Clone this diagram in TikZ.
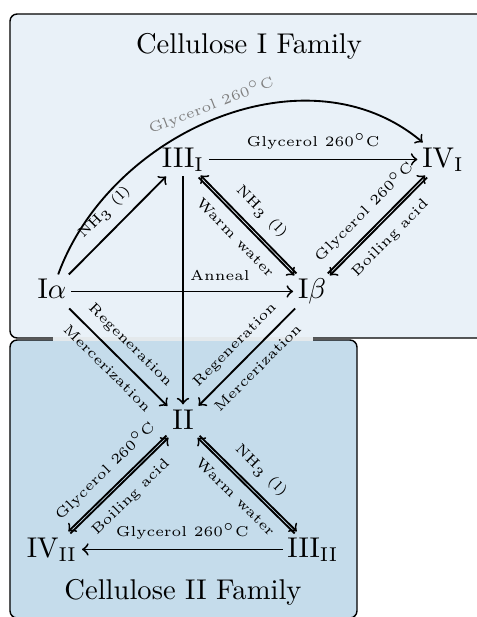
\documentclass[tikz,border=0pt]{standalone}
\definecolor{topfill}{RGB}{233,241,248}
\definecolor{botfill}{RGB}{197,220,235}
\definecolor{stripc}{RGB}{228,233,236}
\begin{document}
\begin{tikzpicture}[x=0.35pt,y=0.35pt,
  st/.style={font=\normalsize, inner sep=1.5pt, anchor=base, text height=6.9pt, text depth=1.6pt},
  ttl/.style={font=\normalsize, inner sep=1.5pt, anchor=base},
  lab/.style={font=\tiny, inner sep=3.3pt, sloped},
  arr/.style={->, line width=0.65pt},
  famfill/.style={draw=black, line width=0.5pt, rounded corners=2.5pt},
  up/.style={transform canvas={shift={(#1)}}}
  ]
\useasboundingbox (0,0) rectangle (477,617);
\draw[famfill, fill=topfill] (10,279) rectangle (492,603);
\draw[famfill, fill=botfill] (10,-1) rectangle (357,277);
\fill[stripc] (53,276) rectangle (313,280.5);

\node[ttl] (t1) at (249,564) {Cellulose I Family};
\node[st] (Ia) at (52,318) {I$\alpha$};
\node[st] (IIIi) at (183,450) {III$_{\mathrm{I}}$};
\node[st] (IVi) at (443,450) {IV$_{\mathrm{I}}$};
\node[st] (Ib) at (312,318) {I$\beta$};
\node[st] (II) at (183,188) {II};
\node[st] (IVii) at (52,60) {IV$_{\mathrm{II}}$};
\node[st] (IIIii) at (313,60) {III$_{\mathrm{II}}$};
\node[ttl] (t2) at (183,17) {Cellulose II Family};

% single arrows
\draw[arr] (Ia) -- node[lab, above] {NH$_3$ (l)} (IIIi);
\draw[arr] (Ia) to[out=70, in=140] node[lab, above, pos=0.5, inner sep=2pt, text=gray] {Glycerol 260$^\circ$C} (IVi);
\draw[arr] (IIIi) -- node[lab, above] {Glycerol 260$^\circ$C} (IVi);
\draw[arr] (Ia) -- node[lab, above, pos=0.67] {Anneal} (Ib);
\draw[arr] (IIIi) -- (II);
\draw[arr] (Ia) -- node[lab, above] {Regeneration} node[lab, below] {Mercerization} (II);
\draw[arr] (Ib) -- node[lab, above] {Regeneration} node[lab, below] {Mercerization} (II);
\draw[arr] (IIIii) -- node[lab, above] {Glycerol 260$^\circ$C} (IVii);

% double arrows
\draw[arr, <-, up={1,1}] (IIIi) -- node[lab, above] {NH$_3$ (l)} (Ib);
\draw[arr, up={-1,-1}] (IIIi) -- node[lab, below] {Warm water} (Ib);

\draw[arr, up={-1,1}] (Ib) -- node[lab, above] {Glycerol 260$^\circ$C} (IVi);
\draw[arr, <-, up={1,-1}] (Ib) -- node[lab, below] {Boiling acid} (IVi);

\draw[arr, <-, up={-1,1}] (IVii) -- node[lab, above] {Glycerol 260$^\circ$C} (II);
\draw[arr, up={1,-1}] (IVii) -- node[lab, below] {Boiling acid} (II);

\draw[arr, up={1,1}] (II) -- node[lab, above] {NH$_3$ (l)} (IIIii);
\draw[arr, <-, up={-1,-1}] (II) -- node[lab, below] {Warm water} (IIIii);
\end{tikzpicture}
\end{document}
